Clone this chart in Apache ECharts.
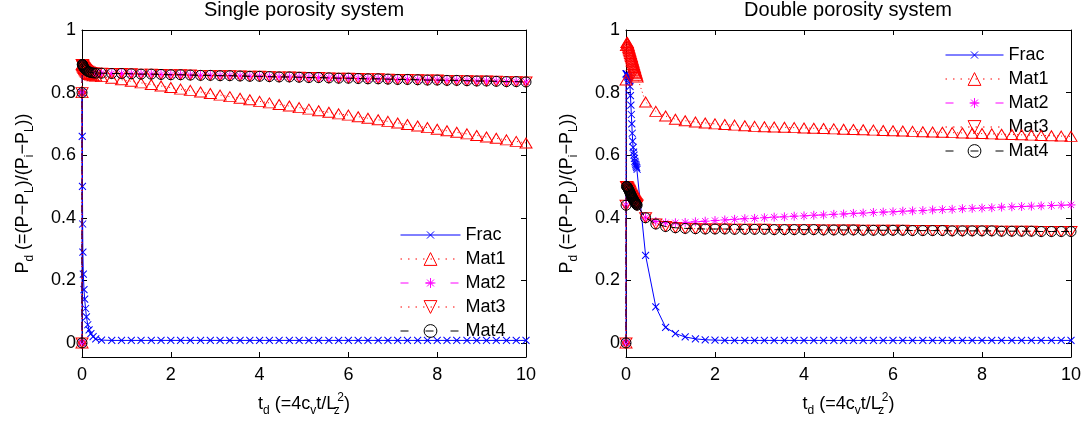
<!DOCTYPE html>
<html>
<head>
<meta charset="utf-8">
<script src="https://cdn.jsdelivr.net/npm/echarts@6/dist/echarts.min.js"></script>
<style>
html,body{margin:0;padding:0;background:#fff;}
#c{width:1088px;height:431px;}
</style>
</head>
<body>
<div id="c"></div>
<script>
// ---------- DATA ----------
const titles = ['Single porosity system', 'Double porosity system'];
const seriesNames = ['Frac', 'Mat1', 'Mat2', 'Mat3', 'Mat4'];
const xTicks = [0, 2, 4, 6, 8, 10];
const yTicks = [0, 0.2, 0.4, 0.6, 0.8, 1];

// time grid (dimensionless) : early dense steps + regular steps
const tLeftEarly = [0, 0.001, 0.005, 0.01, 0.015, 0.02, 0.03, 0.045, 0.06, 0.08, 0.1, 0.13, 0.16, 0.2, 0.25, 0.31];
const tRightEarly = [0, 0.001, 0.01, 0.02, 0.03, 0.04, 0.05, 0.06, 0.07, 0.08, 0.09, 0.1, 0.11, 0.12, 0.13, 0.14, 0.15, 0.16, 0.17, 0.18, 0.19, 0.2, 0.21, 0.22, 0.23, 0.24, 0.25];
const tLate = [0.44, 0.67, 0.89, 1.11, 1.33, 1.56, 1.78, 2.00, 2.22, 2.44, 2.67, 2.89, 3.11, 3.33, 3.56, 3.78, 4.00, 4.22, 4.44, 4.67, 4.89, 5.11, 5.33, 5.56, 5.78, 6.00, 6.22, 6.44, 6.67, 6.89, 7.11, 7.33, 7.56, 7.78, 8.00, 8.22, 8.44, 8.67, 8.89, 9.11, 9.33, 9.56, 9.78, 10.00];

// Single porosity system
const fracLeftEarly = [0, 0.80, 0.66, 0.50, 0.38, 0.29, 0.22, 0.17, 0.14, 0.11, 0.083, 0.058, 0.042, 0.03, 0.02, 0.013];
const fracLeftLate = [0.009, 0.008, 0.008, 0.008, 0.008, 0.008, 0.008, 0.008, 0.008, 0.008, 0.008, 0.008, 0.008, 0.008, 0.008, 0.008, 0.008, 0.008, 0.008, 0.008, 0.008, 0.008, 0.008, 0.008, 0.008, 0.008, 0.008, 0.008, 0.008, 0.008, 0.008, 0.008, 0.008, 0.008, 0.008, 0.008, 0.008, 0.008, 0.008, 0.008, 0.008, 0.008, 0.008, 0.008];
const mat1LeftEarly = [0, 0.80, 0.89, 0.889, 0.887, 0.885, 0.881, 0.877, 0.873, 0.869, 0.865, 0.861, 0.858, 0.856, 0.854, 0.853];
const mat1LeftLate = [0.851, 0.846, 0.841, 0.836, 0.831, 0.826, 0.821, 0.816, 0.811, 0.807, 0.802, 0.797, 0.792, 0.787, 0.782, 0.777, 0.772, 0.767, 0.762, 0.757, 0.752, 0.747, 0.742, 0.737, 0.732, 0.728, 0.723, 0.718, 0.713, 0.708, 0.703, 0.698, 0.693, 0.688, 0.683, 0.678, 0.673, 0.668, 0.663, 0.658, 0.654, 0.649, 0.644, 0.639];
const mat234LeftEarly = [0, 0.80, 0.89, 0.89, 0.888, 0.886, 0.883, 0.88, 0.877, 0.874, 0.871, 0.868, 0.866, 0.864, 0.863, 0.862];
const mat234LeftLate = [0.862, 0.861, 0.861, 0.860, 0.859, 0.859, 0.858, 0.857, 0.857, 0.856, 0.855, 0.855, 0.854, 0.854, 0.853, 0.852, 0.852, 0.851, 0.850, 0.850, 0.849, 0.848, 0.848, 0.847, 0.846, 0.846, 0.845, 0.844, 0.844, 0.843, 0.842, 0.842, 0.841, 0.840, 0.840, 0.839, 0.839, 0.838, 0.837, 0.837, 0.836, 0.835, 0.835, 0.834];

// Double porosity system
const fracRightEarly = [0, 0.86, 0.86, 0.86, 0.855, 0.85, 0.85, 0.845, 0.84, 0.835, 0.82, 0.79, 0.76, 0.73, 0.70, 0.67, 0.645, 0.625, 0.61, 0.60, 0.59, 0.58, 0.575, 0.57, 0.565, 0.56, 0.555];
const fracRightLate = [0.28, 0.115, 0.05, 0.03, 0.019, 0.013, 0.01, 0.009, 0.008, 0.008, 0.008, 0.008, 0.008, 0.008, 0.008, 0.008, 0.008, 0.008, 0.008, 0.008, 0.008, 0.008, 0.008, 0.008, 0.008, 0.008, 0.008, 0.008, 0.008, 0.008, 0.008, 0.008, 0.008, 0.008, 0.008, 0.008, 0.008, 0.008, 0.008, 0.008, 0.008, 0.008, 0.008, 0.008];
const mat1RightEarly = [0, 0.84, 0.95, 0.96, 0.96, 0.955, 0.95, 0.945, 0.94, 0.935, 0.93, 0.925, 0.92, 0.915, 0.91, 0.905, 0.90, 0.895, 0.89, 0.885, 0.88, 0.875, 0.87, 0.865, 0.86, 0.855, 0.85];
const mat1RightLate = [0.77, 0.74, 0.725, 0.715, 0.71, 0.706, 0.703, 0.70, 0.698, 0.696, 0.694, 0.692, 0.691, 0.69, 0.689, 0.688, 0.687, 0.686, 0.685, 0.684, 0.683, 0.682, 0.681, 0.68, 0.679, 0.678, 0.677, 0.676, 0.675, 0.674, 0.673, 0.672, 0.671, 0.67, 0.669, 0.668, 0.667, 0.666, 0.665, 0.664, 0.663, 0.662, 0.661, 0.66];
const mat234RightEarly = [0, 0.44, 0.50, 0.50, 0.498, 0.495, 0.492, 0.49, 0.487, 0.484, 0.48, 0.477, 0.474, 0.471, 0.468, 0.465, 0.462, 0.46, 0.457, 0.455, 0.452, 0.45, 0.448, 0.446, 0.444, 0.442, 0.44];
const mat2RightLate = [0.40, 0.388, 0.384, 0.384, 0.385, 0.387, 0.389, 0.391, 0.393, 0.395, 0.397, 0.398, 0.400, 0.402, 0.403, 0.405, 0.406, 0.408, 0.409, 0.411, 0.412, 0.414, 0.415, 0.417, 0.418, 0.419, 0.421, 0.422, 0.423, 0.425, 0.426, 0.427, 0.429, 0.430, 0.431, 0.432, 0.434, 0.435, 0.436, 0.437, 0.438, 0.439, 0.440, 0.441];
const mat34RightLate = [0.40, 0.38, 0.372, 0.368, 0.366, 0.365, 0.364, 0.364, 0.364, 0.363, 0.363, 0.363, 0.363, 0.362, 0.362, 0.362, 0.362, 0.362, 0.361, 0.361, 0.361, 0.361, 0.360, 0.360, 0.360, 0.360, 0.360, 0.359, 0.359, 0.359, 0.359, 0.358, 0.358, 0.358, 0.358, 0.358, 0.357, 0.357, 0.357, 0.357, 0.356, 0.356, 0.356, 0.356];

// ---------- BUILD ----------
const FONT = '"Liberation Sans", Arial, Helvetica, sans-serif';
const tLeft = tLeftEarly.concat(tLate);
const tRight = tRightEarly.concat(tLate);
const leftVals = [
  fracLeftEarly.concat(fracLeftLate),
  mat1LeftEarly.concat(mat1LeftLate),
  mat234LeftEarly.concat(mat234LeftLate),
  mat234LeftEarly.concat(mat234LeftLate),
  mat234LeftEarly.concat(mat234LeftLate)
];
const rightVals = [
  fracRightEarly.concat(fracRightLate),
  mat1RightEarly.concat(mat1RightLate),
  mat234RightEarly.concat(mat2RightLate),
  mat234RightEarly.concat(mat34RightLate),
  mat234RightEarly.concat(mat34RightLate)
];

const styles = [
  {color: '#0000ff', symbol: 'path://M-4,-4M0,0L10,10M0,10L10,0M14,14', size: 12.6, dash: 'solid', legendDash: 'solid'},
  {color: '#ff0000', symbol: 'path://M5,0L10,8.66L0,8.66Z', size: [12, 10], dash: [1, 3], legendDash: [1.5, 6]},
  {color: '#ff00ff', symbol: 'path://M-1.5,-1.5M5,0L5,10M0,5L10,5M1.5,1.5L8.5,8.5M1.5,8.5L8.5,1.5M11.5,11.5', size: 11.6, dash: [8, 5], legendDash: [8, 17]},
  {color: '#ff0000', symbol: 'path://M0,0L10,0L5,8.66Z', size: [12, 10], dash: [1, 3], legendDash: [1.5, 6]},
  {color: '#000000', symbol: 'circle', size: 10, dash: [8, 5], legendDash: [8, 17]}
];

function mkSeries(axisIdx, tArr, valsList) {
  return valsList.map((vals, k) => ({
    type: 'line',
    name: seriesNames[k],
    xAxisIndex: axisIdx,
    yAxisIndex: axisIdx,
    data: tArr.map((t, i) => [t, vals[i]]),
    symbol: styles[k].symbol,
    symbolSize: styles[k].size,
    showSymbol: true,
    itemStyle: {color: 'none', borderColor: styles[k].color, borderWidth: 1},
    lineStyle: {color: styles[k].color, width: 1, type: styles[k].dash},
    emphasis: {disabled: true},
    z: 3 + k
  }));
}

const xName = '{m|t}{s|d}{m| (=4c}{s|v}{m|t/L}{z|z}{p|2}{m|)}';
const yName = '{m|P}{s|d}{m| (=(P\u2212P}{s|L}{m|)/(P}{s|i}{m|\u2212P}{s|L}{m|))}';
const richStyles = {
  m: {fontSize: 18, fontFamily: FONT, color: '#000'},
  s: {fontSize: 12, fontFamily: FONT, color: '#000', padding: [14, 0, 0, 0]},
  z: {fontSize: 12, fontFamily: FONT, color: '#000', padding: [14, 0, 0, 0], width: 1},
  p: {fontSize: 12, fontFamily: FONT, color: '#000', padding: [0, 0, 12, 0]}
};

const axisLineStyle = {show: true, onZero: false, lineStyle: {color: '#000', width: 1}};
function xMain(g) {
  return {
    type: 'value', gridIndex: g, position: 'bottom', min: 0, max: 10, interval: 2,
    axisLine: axisLineStyle,
    axisTick: {show: true, inside: true, length: 5, lineStyle: {color: '#000'}},
    axisLabel: {color: '#000', fontSize: 18, fontFamily: FONT, margin: 9},
    splitLine: {show: false},
    name: xName, nameLocation: 'middle', nameGap: 34,
    nameTextStyle: {rich: richStyles}
  };
}
function xTop(g) {
  return {
    type: 'value', gridIndex: g, position: 'top', min: 0, max: 10, interval: 2,
    axisLine: axisLineStyle,
    axisTick: {show: true, inside: true, length: 5, lineStyle: {color: '#000'}},
    axisLabel: {show: false}, splitLine: {show: false}
  };
}
function yMain(g) {
  return {
    type: 'value', gridIndex: g, position: 'left', min: -0.045, max: 1,
    axisLine: axisLineStyle,
    axisTick: {show: true, inside: true, length: 5, customValues: yTicks, lineStyle: {color: '#000'}},
    axisLabel: {color: '#000', fontSize: 18, fontFamily: FONT, margin: 6, customValues: yTicks, formatter: v => String(v)},
    splitLine: {show: false},
    name: yName, nameLocation: 'middle', nameRotate: 90, nameGap: 46,
    nameTextStyle: {rich: richStyles}
  };
}
function yRight(g) {
  return {
    type: 'value', gridIndex: g, position: 'right', min: -0.045, max: 1,
    axisLine: axisLineStyle,
    axisTick: {show: true, inside: true, length: 5, customValues: yTicks, lineStyle: {color: '#000'}},
    axisLabel: {show: false}, splitLine: {show: false}
  };
}

function mkLegend(left, top, w) {
  return {
    left: left, top: top, orient: 'vertical',
    itemWidth: w, itemHeight: 16, itemGap: 6,
    selectedMode: false,
    padding: 0,
    textStyle: {fontSize: 18, color: '#000', fontFamily: FONT},
    data: seriesNames.map((n, k) => ({
      name: n,
      itemStyle: {color: 'none', borderColor: styles[k].color, borderWidth: 1},
      lineStyle: {color: styles[k].color, width: 1, type: styles[k].legendDash, opacity: 1}
    }))
  };
}

const option = {
  animation: false,
  backgroundColor: '#fff',
  title: [
    {text: titles[0], left: 304, top: 0, padding: 0, textAlign: 'center',
     textStyle: {fontSize: 20, fontWeight: 'normal', color: '#000', fontFamily: FONT}},
    {text: titles[1], left: 848, top: 0, padding: 0, textAlign: 'center',
     textStyle: {fontSize: 20, fontWeight: 'normal', color: '#000', fontFamily: FONT}}
  ],
  grid: [
    {left: 82, top: 30, width: 444, height: 327},
    {left: 626, top: 30, width: 445, height: 327}
  ],
  xAxis: [xMain(0), xTop(0), xMain(1), xTop(1)],
  yAxis: [yMain(0), yRight(0), yMain(1), yRight(1)],
  legend: [mkLegend(400, 226, 60), mkLegend(945, 46, 58)],
  series: mkSeries(0, tLeft, leftVals).concat(mkSeries(2, tRight, rightVals))
};

const chart = echarts.init(document.getElementById('c'), null, {renderer: 'canvas'});
chart.setOption(option);
</script>
</body>
</html>
